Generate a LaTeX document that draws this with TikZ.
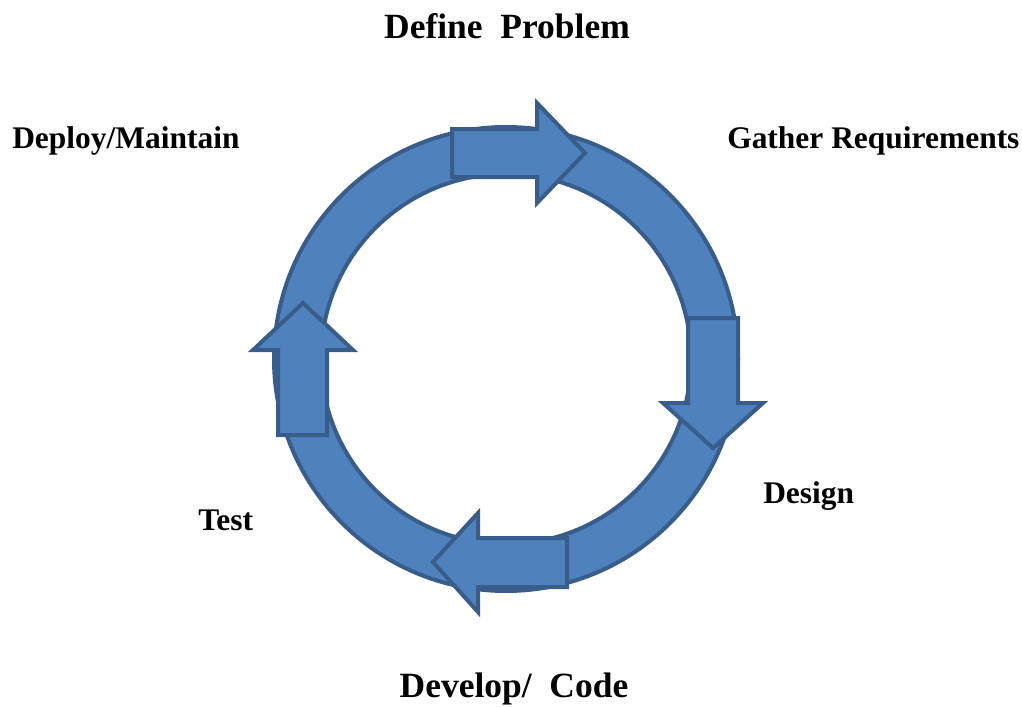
\documentclass[tikz,border=0pt]{standalone}
\usepackage{fontspec}
\setmainfont{Liberation Serif}
\definecolor{blockfill}{HTML}{4F81BD}
\definecolor{blockline}{HTML}{385D8A}
\begin{document}
\begin{tikzpicture}[x=0.75pt,y=-0.75pt,
  ringpart/.style={fill=blockfill,draw=blockline,line width=3pt,even odd rule},
  blockarrow/.style={fill=blockfill,draw=blockline,line width=3pt,line join=miter},
  smalllabel/.style={font=\fontsize{23.6pt}{28pt}\selectfont\bfseries,anchor=base west,inner sep=0pt},
  biglabel/.style={font=\fontsize{26.6pt}{32pt}\selectfont\bfseries,anchor=base,inner sep=0pt}]
\useasboundingbox (0,0) rectangle (1022,707);
% ring
\path[ringpart] (506,359) circle[radius=232] (506,359) circle[radius=185];
% arrows
\path[blockarrow] (452,129) -- (537,129) -- (537,103) -- (585,153) -- (537,203) -- (537,177) -- (452,177) -- cycle;
\path[blockarrow] (688,318) -- (738,318) -- (738,403) -- (763,403) -- (713,448) -- (663,403) -- (688,403) -- cycle;
\path[blockarrow] (567,538) -- (478,538) -- (478,513) -- (433,562) -- (478,612) -- (478,587) -- (567,587) -- cycle;
\path[blockarrow] (278,435) -- (278,350) -- (253,350) -- (303,303) -- (353,350) -- (327,350) -- (327,435) -- cycle;
% labels
\node[biglabel] (define) at (507,38) {Define~~Problem};
\node[smalllabel] (deploy) at (12,148) {Deploy/Maintain};
\node[smalllabel] (gather) at (727,148) {Gather Requirements};
\node[smalllabel] (design) at (763,503) {Design};
\node[smalllabel] (test) at (198,530) {Test};
\node[biglabel] (develop) at (514,697) {Develop/~~Code};
\end{tikzpicture}
\end{document}
